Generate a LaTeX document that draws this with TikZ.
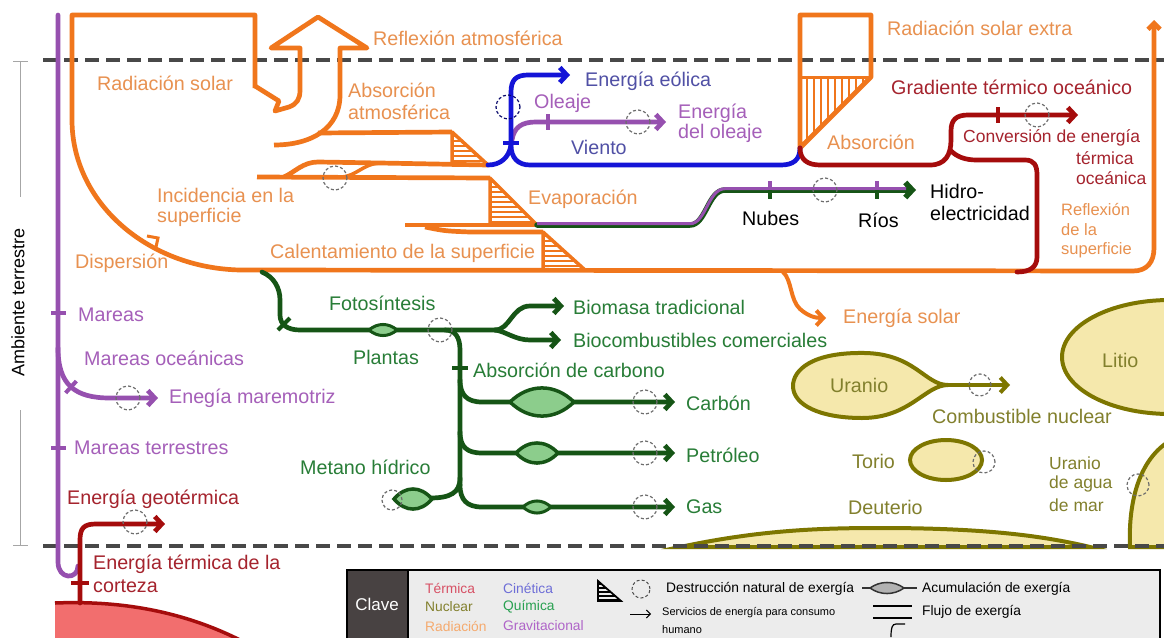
\documentclass[tikz,border=0pt]{standalone}
\usepackage{fontspec}
\setmainfont{Liberation Sans}
\usetikzlibrary{arrows.meta}
\definecolor{OrL}{RGB}{240,118,28}
\definecolor{OrT}{RGB}{232,145,80}
\definecolor{ReL}{RGB}{165,12,12}
\definecolor{ReT}{RGB}{165,35,45}
\definecolor{BlL}{RGB}{20,20,215}
\definecolor{BlT}{RGB}{80,80,165}
\definecolor{PuL}{RGB}{150,80,175}
\definecolor{PuT}{RGB}{165,95,185}
\definecolor{GrL}{RGB}{22,85,22}
\definecolor{GrT}{RGB}{40,125,55}
\definecolor{OlL}{RGB}{125,118,0}
\definecolor{OlT}{RGB}{130,128,45}
\definecolor{OlF}{RGB}{245,232,172}
\definecolor{LensF}{RGB}{140,205,140}
\definecolor{DashG}{RGB}{72,72,72}
\definecolor{EarthF}{RGB}{242,110,110}
\definecolor{KeyBg}{RGB}{236,236,236}
\definecolor{KeyDk}{RGB}{72,66,66}
\definecolor{KTerm}{RGB}{215,80,100}
\definecolor{KRad}{RGB}{245,170,110}
\definecolor{KCin}{RGB}{110,110,215}
\definecolor{KQui}{RGB}{40,160,80}
\definecolor{KGra}{RGB}{175,100,200}
\newcommand{\lensat}[5]{%
 \filldraw[#1] ({#2-#4/2},#3) .. controls ({#2-#4/5},{#3-#5*0.67}) and ({#2+#4/5},{#3-#5*0.67}) .. ({#2+#4/2},#3) .. controls ({#2+#4/5},{#3+#5*0.67}) and ({#2-#4/5},{#3+#5*0.67}) .. cycle;}
\begin{document}
\begin{tikzpicture}[x=1pt,y=-1pt,
 lb/.style={inner sep=0pt,anchor=west,font=\fontsize{19.7}{22}\selectfont},
 md/.style={inner sep=0pt,anchor=west,font=\fontsize{17.5}{20}\selectfont},
 sm/.style={inner sep=0pt,anchor=west,font=\fontsize{16.5}{19}\selectfont},
 ky/.style={inner sep=0pt,anchor=west,font=\fontsize{13.8}{15}\selectfont},
 kys/.style={inner sep=0pt,anchor=west,font=\fontsize{11}{13}\selectfont},
 flow/.style={line width=4.7pt,line join=round,line cap=round},
 obar/.style={draw=OrL,line width=4.7pt,line join=round},
 tipa/.style={-{Straight Barb[length=7pt,width=15pt]}},
 dc/.style={draw=DashG!80,line width=1.2pt,dash pattern=on 3pt off 2.2pt},
 tick/.style={line width=4pt,line cap=butt},
 hat/.style={line width=2.4pt,draw=OrL},
 lensg/.style={draw=GrL,fill=LensF,line width=3.5pt},
 nuc/.style={draw=OlL,fill=OlF,line width=4pt},
]
\useasboundingbox (0,0) rectangle (1164,637);
\clip (0,0) rectangle (1164,637);
\fill[white] (0,0) rectangle (1164,637);

% nuclear reservoirs
\filldraw[nuc] (680,547) .. controls (760,530) and (820,528) .. (880,528) .. controls (980,528) and (1040,535) .. (1090,547) -- cycle;
\filldraw[nuc] (1130,547) .. controls (1128,500) and (1140,455) .. (1175,438) -- (1175,547) -- cycle;
\filldraw[nuc] (1170,357) ellipse [x radius=108pt, y radius=57pt];
\filldraw[nuc] (946,460) ellipse [x radius=36pt, y radius=20pt];
\draw[OlL,flow,line width=4pt,tipa] (940,385) -- (1010,385);
\filldraw[nuc] (948,385) .. controls (925,385) and (915,354) .. (865,353) .. controls (812,352) and (793,370) .. (793,386) .. controls (793,405) and (820,418) .. (862,418) .. controls (910,418) and (925,385) .. (948,385) -- cycle;
\draw[dc] (980,385) circle[radius=11pt];
\draw[dc] (984,462) circle[radius=11pt];
\draw[dc] (1138,485) circle[radius=11pt];

% dashed boundaries
\draw[line width=4.5pt,DashG,dash pattern=on 14pt off 7pt] (43,60) -- (1164,60);
\draw[line width=4.5pt,DashG,dash pattern=on 14pt off 7pt] (43,546) -- (1164,546);

% scale at left
\draw[gray!70,line width=0.8pt] (13,61) -- (28,61) (20,61) -- (20,197) (20,410) -- (20,545) (13,545) -- (28,545);
\node[rotate=90,font=\fontsize{18}{20}\selectfont,inner sep=0pt] (amb) at (18,302) {Ambiente terrestre};

% earth
\fill[EarthF] (55,603) .. controls (130,600) and (190,615) .. (240,640) -- (55,640) -- cycle;
\draw[ReL,line width=3.5pt] (55,603) .. controls (130,600) and (190,615) .. (240,640);

% gravitational
\draw[PuL,flow] (58,15) -- (58,562) .. controls (58,580) and (78,580) .. (78,566);
\draw[PuL,flow,tipa] (58,348) .. controls (58,385) and (75,398) .. (110,398) -- (158,398);
\draw[PuL,tick] (51,313) -- (66,313);
\draw[PuL,tick] (51,448) -- (66,448);
\draw[PuL,tick] (76.4,381.1) -- (65.6,392.9);
\draw[dc] (128,398) circle[radius=12pt];

% geothermal
\draw[ReL,flow,tipa] (80,603) -- (80,540) .. controls (80,528) and (84,524) .. (96,524) -- (165,524);
\draw[ReL,tick] (71,583) -- (89,583);
\draw[dc] (135,522) circle[radius=12pt];

% big orange radiation band
\draw[obar,-{Straight Barb[length=6pt,width=12pt]}] (255,88) -- (255,15) -- (72,15) -- (72,120) .. controls (72,202) and (147,268) .. (240,270) -- (1133,271) .. controls (1147,271) and (1154,262) .. (1154,248) -- (1154,20);
\draw[OrL,line width=3pt,line join=miter] (147,236) -- (158,238) -- (156,247);
\draw[obar] (255,86) -- (279,101) -- (275,111) -- (289,107) .. controls (297,104) and (300,99) .. (300,90) -- (300,48) -- (271,48) -- (318,17) -- (367,48) -- (340,48) -- (340,95) .. controls (340,128) and (312,145) .. (274,145);
\draw[obar] (318,133) -- (452,132);
% triangle 1
\begin{scope}\clip (452,132) -- (452,165) -- (488,165) -- cycle;
\foreach \yy in {136,141,...,166} \draw[hat] (440,\yy) -- (500,\yy);
\end{scope}
\draw[obar,line width=3.5pt] (452,132) -- (452,165) -- (488,165) -- cycle;
\draw[obar] (488,165) -- (380,163) -- (318,162) .. controls (303,162) and (295,172) .. (284,177);
\draw[obar,line width=3.5pt] (380,163) .. controls (362,164) and (356,177) .. (340,177);
\draw[obar] (257,177) -- (490,178);
\draw[dc] (335,178) circle[radius=12pt];
% triangle 2
\begin{scope}\clip (490,178) -- (490,225) -- (537,225) -- cycle;
\foreach \yy in {182,187,...,227} \draw[hat] (480,\yy) -- (545,\yy);
\end{scope}
\draw[obar,line width=3.5pt] (490,178) -- (490,225) -- (537,225) -- cycle;
\draw[obar] (537,225) -- (405,225);
\draw[obar] (425,227) .. controls (445,231) .. (470,232) -- (543,232);
% triangle 3
\begin{scope}\clip (543,232) -- (543,270) -- (585,270) -- cycle;
\foreach \yy in {236,241,...,271} \draw[hat] (535,\yy) -- (595,\yy);
\end{scope}
\draw[obar,line width=3.5pt] (543,232) -- (543,270) -- (585,270) -- cycle;
% top right absorber
\begin{scope}\clip (800,77) -- (871,77) -- (800,148) -- cycle;
\foreach \xx in {807,814,...,870} \draw[hat] (\xx,70) -- (\xx,150);
\end{scope}
\draw[obar] (800,148) -- (800,15) -- (871,15) -- (871,77) -- cycle;
\draw[obar,line width=3pt] (800,77) -- (871,77);

% wave
\draw[PuL,flow,tipa] (512,140) .. controls (514,127) and (522,122) .. (536,122) -- (666,122);
\draw[PuL,tick] (548,114) -- (548,130);
\draw[dc] (638,122) circle[radius=12pt];
% wind
\draw[BlL,flow,tipa] (800,148) .. controls (800,160) and (793,165) .. (781,165) -- (530,165) .. controls (518,165) and (511,158) .. (511,145) -- (511,92) .. controls (511,80) and (516,75) .. (528,75) -- (570,75);
\draw[BlL,flow] (488,165) .. controls (500,165) and (509,158) .. (511,145);
\draw[BlL,tick] (503,143) -- (519,143);
\draw[dc,draw=BlL!50!black] (508,107) circle[radius=12pt];
% ocean thermal
\draw[ReL,flow,tipa] (800,148) .. controls (800,160) and (808,165) .. (820,165) -- (930,165) .. controls (945,165) and (951,155) .. (951,140) -- (951,131) .. controls (951,120) and (956,115) .. (968,115) -- (1078,115);
\draw[ReL,flow] (950,150) .. controls (957,157) and (965,160) .. (977,160) -- (1025,160) .. controls (1034,160) and (1037,165) .. (1037,175) -- (1037,257) .. controls (1037,267) and (1030,272) .. (1017,272);
\draw[ReL,tick] (998,107) -- (998,123);
\draw[dc] (1037,115) circle[radius=12pt];
% hydro
\draw[GrL,flow,line width=5.5pt,tipa] (537,225) -- (690,225) .. controls (706,225) and (708,190) .. (725,190) -- (916,190);
\draw[PuL,line width=3pt,yshift=1.3pt] (537,225) -- (690,225) .. controls (706,225) and (708,190) .. (725,190) -- (906,190);
\draw[PuL,tick] (770,181) -- (770,190);
\draw[GrL,tick] (770,190) -- (770,199);
\draw[PuL,tick] (877,181) -- (877,190);
\draw[GrL,tick] (877,190) -- (877,199);
\draw[dc] (825,190) circle[radius=12pt];
% solar energy
\draw[OrL,flow,line width=4pt,tipa] (783,272) .. controls (792,280) and (790,300) .. (800,309) .. controls (808,316) and (815,318) .. (826,318);

% chemical
\draw[GrL,flow] (262,272) .. controls (274,277) and (280,288) .. (280,300) -- (280,315) .. controls (280,325) and (288,330) .. (300,330) -- (497,330);
\draw[GrL,flow,tipa] (495,330) .. controls (510,330) and (512,306) .. (530,306) -- (564,306);
\draw[GrL,flow,tipa] (495,330) .. controls (505,331) and (515,340) .. (530,340) -- (561,340);
\draw[GrL,tick] (278,330) -- (290,318);
\draw[GrL,flow] (445,330) .. controls (455,330) and (460,337) .. (460,350) -- (460,485);
\draw[GrL,flow,tipa] (460,380) .. controls (460,395) and (467,402) .. (482,402) -- (675,402);
\draw[GrL,flow,tipa] (460,432) .. controls (460,447) and (467,453) .. (482,453) -- (675,453);
\draw[GrL,flow,tipa] (460,485) .. controls (460,500) and (467,507) .. (482,507) -- (675,507);
\draw[GrL,flow] (430,498) .. controls (450,498) and (460,493) .. (460,478);
\draw[GrL,tick] (452,368) -- (468,368);
\lensat{lensg,line width=3pt}{383}{330}{28}{11}
\lensat{lensg}{542}{402}{64}{28}
\lensat{lensg}{537}{453}{42}{20}
\lensat{lensg,line width=3pt}{537}{507}{28}{12}
\lensat{lensg}{413}{499}{38}{20}
\draw[dc] (392,500) circle[radius=10pt];
\draw[dc] (440,330) circle[radius=12pt];
\draw[dc] (645,402) circle[radius=12pt];
\draw[dc] (645,453) circle[radius=12pt];
\draw[dc] (645,507) circle[radius=12pt];

% labels: radiation
\node[lb,text=OrT] (trefat) at (373,38) {Reflexión atmosférica};
\node[lb,text=OrT] (trad) at (97,83) {Radiación solar};
\node[lb,text=OrT] (tabs1) at (348,90) {Absorción};
\node[lb,text=OrT] (tabs2) at (348,112) {atmosférica};
\node[lb,text=OrT] (tinc1) at (157,195) {Incidencia en la};
\node[lb,text=OrT] (tinc2) at (157,217) {superficie};
\node[lb,text=OrT] (tdis) at (75,263) {Dispersión};
\node[lb,text=OrT] (tcal) at (270,253) {Calentamiento de la superficie};
\node[lb,text=OrT] (tevap) at (528,199) {Evaporación};
\node[lb,text=OrT] (trse) at (887,28) {Radiación solar extra};
\node[lb,text=OrT] (tabs) at (827,142) {Absorción};
\node[lb,text=OrT] (tsol) at (843,318) {Energía solar};
\node[sm,text=OrT] (trs1) at (1061,210) {Reflexión};
\node[sm,text=OrT] (trs2) at (1061,230) {de la};
\node[sm,text=OrT] (trs3) at (1061,250) {superficie};
% thermal
\node[lb,text=ReT] (tgrad) at (891,87) {Gradiente térmico oceánico};
\node[md,text=ReT] (tconv1) at (963,138) {Conversión de energía};
\node[md,text=ReT] (tconv2) at (1076,158) {térmica};
\node[md,text=ReT] (tconv3) at (1076,178) {oceánica};
\node[lb,text=ReT] (tgeo) at (67,499) {Energía geotérmica};
\node[lb,text=ReT] (tcor1) at (93,564) {Energía térmica de la};
\node[lb,text=ReT] (tcor2) at (93,586) {corteza};
% kinetic / gravitational
\node[lb,text=BlT] (teol) at (585,81) {Energía eólica};
\node[lb,text=BlT] (tvie) at (571,147) {Viento};
\node[lb,text=PuT] (tole) at (534,103) {Oleaje};
\node[lb,text=PuT] (tole1) at (678,113) {Energía};
\node[lb,text=PuT] (tole2) at (678,133) {del oleaje};
\node[lb,text=PuT] (tmar) at (78,315) {Mareas};
\node[lb,text=PuT] (tmaro) at (84,358) {Mareas oceánicas};
\node[lb,text=PuT] (tmare) at (169,398) {Enegía maremotriz};
\node[lb,text=PuT] (tmart) at (74,448) {Mareas terrestres};
% black
\node[lb] (tnub) at (742,218) {Nubes};
\node[lb] (trio) at (858,220) {Ríos};
\node[lb] (thid1) at (930,191) {Hidro-};
\node[lb] (thid2) at (930,213) {electricidad};
% chemical
\node[lb,text=GrT] (tfot) at (329,303) {Fotosíntesis};
\node[lb,text=GrT] (tpla) at (353,357) {Plantas};
\node[lb,text=GrT] (tbio) at (573,307) {Biomasa tradicional};
\node[lb,text=GrT] (tbioc) at (573,340) {Biocombustibles comerciales};
\node[lb,text=GrT] (tabsc) at (473,370) {Absorción de carbono};
\node[lb,text=GrT] (tcarb) at (686,403) {Carbón};
\node[lb,text=GrT] (tpet) at (686,455) {Petróleo};
\node[lb,text=GrT] (tgas) at (686,507) {Gas};
\node[lb,text=GrT] (tmet) at (300,467) {Metano hídrico};
% nuclear
\node[lb,text=OlT] (tura) at (830,385) {Uranio};
\node[lb,text=OlT] (tcomb) at (932,416) {Combustible nuclear};
\node[lb,text=OlT] (tlit) at (1102,360) {Litio};
\node[lb,text=OlT] (ttor) at (852,461) {Torio};
\node[md,text=OlT] (tum1) at (1049,463) {Uranio};
\node[md,text=OlT] (tum2) at (1049,484) {de agua};
\node[md,text=OlT] (tum3) at (1049,505) {de mar};
\node[lb,text=OlT] (tdeu) at (848,507) {Deuterio};

% key
\filldraw[fill=KeyBg,draw=black,line width=1.3pt] (347,570) rectangle (1160,645);
\filldraw[fill=KeyDk,draw=black,line width=1.3pt] (347,570) rectangle (408,645);
\node[text=white,font=\fontsize{17}{20}\selectfont,inner sep=0pt] (clave) at (377,604) {Clave};
\node[ky,text=KTerm] (kter) at (425,588) {Térmica};
\node[ky,text=OlT] (knuc) at (425,607) {Nuclear};
\node[ky,text=KRad] (krad) at (425,626) {Radiación};
\node[ky,text=KCin] (kcin) at (503,588) {Cinética};
\node[ky,text=KQui] (kqui) at (503,607) {Química};
\node[ky,text=KGra] (kgra) at (503,626) {Gravitacional};
\begin{scope}\clip (598,581) -- (598,601) -- (621,601) -- cycle;
\foreach \yy in {584,588,...,600} \draw[black,line width=1.3pt] (595,\yy) -- (625,\yy);
\end{scope}
\draw[black,line width=1.8pt] (598,581) -- (598,601) -- (621,601) -- cycle;
\draw[dc,draw=black!70,line width=1pt] (641,589) circle[radius=9pt];
\draw[black,line width=1pt,-{Straight Barb[length=4pt,width=8pt]}] (630,614) -- (651,614);
\node[ky] (kdes) at (666,589) {Destrucción natural de exergía};
\node[kys] (kserv) at (662,613) {Servicios de energía para consumo};
\node[kys] (khum) at (662,630) {humano};
\draw[black!80,line width=1.5pt] (862,588) -- (917,588);
\lensat{fill=gray!60,draw=black!80,line width=1.5pt}{887}{588}{34}{11}
\node[ky] (kacu) at (922,589) {Acumulación de exergía};
\draw[black,line width=1.2pt] (873,606) -- (912,606) (873,618) -- (912,618);
\draw[black,line width=1.2pt] (905,624) -- (896,624) .. controls (892,624) and (891,628) .. (891,637);
\node[ky] (kflu) at (922,612) {Flujo de exergía};
\end{tikzpicture}
\end{document}
